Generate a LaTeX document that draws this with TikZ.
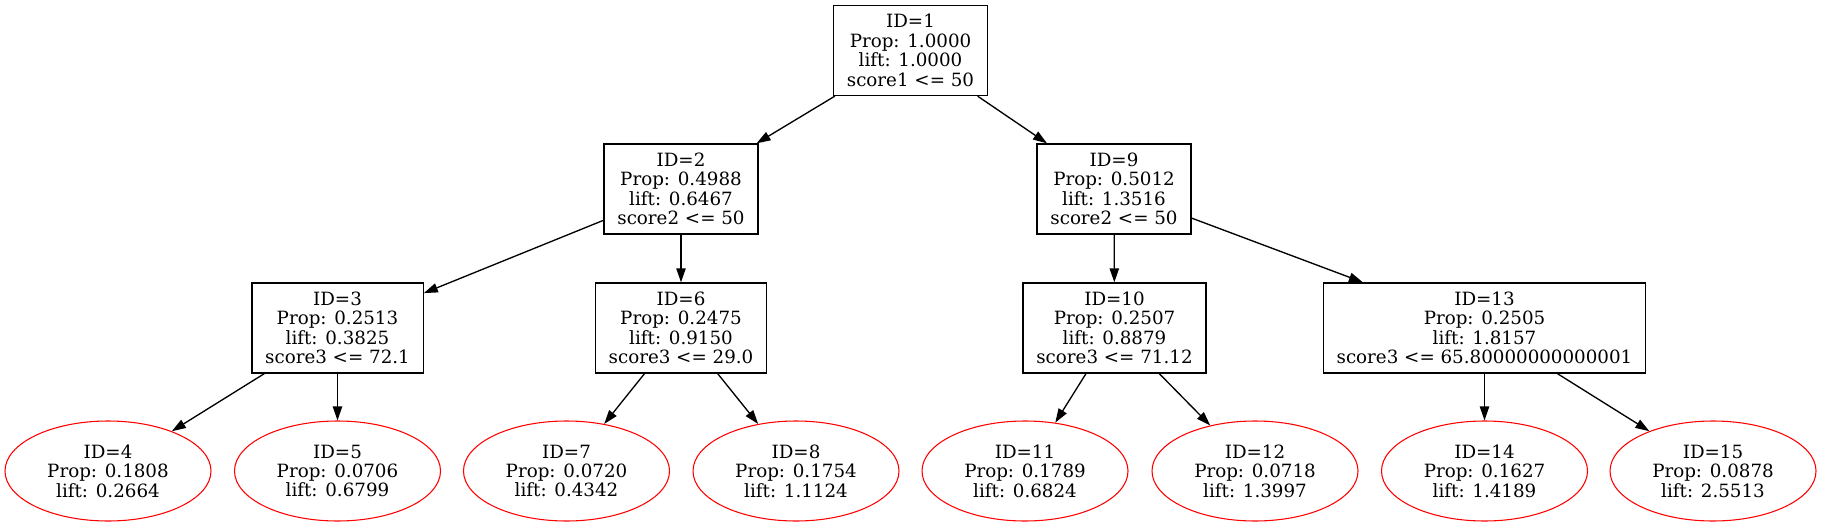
\documentclass[tikz,border=0pt]{standalone}
\usepackage{fontspec}
\setmainfont{DejaVu Serif}
\usepackage{tikz}
\usetikzlibrary{shapes.geometric,arrows.meta}

\tikzset{
  split/.style={draw, rectangle, align=center, line width=1pt, inner xsep=10pt, minimum height=67.5pt,
    font=\fontsize{13.7}{14.6}\selectfont},
  leaf/.style={draw=red, ellipse, align=center, line width=0.8pt, inner sep=0pt, minimum width=154.5pt,
    minimum height=75pt, font=\fontsize{13.7}{14.6}\selectfont},
  edge/.style={line width=1pt, -{Triangle[length=10.5pt,width=7pt]}}
}

\begin{document}
\begin{tikzpicture}[x=0.75pt,y=-0.75pt]
\useasboundingbox (0,0) rectangle (1822,527);
\node[split] (id1) at (910.5,50.5) {ID=1\\Prop: 1.0000\\lift: 1.0000\\score1 <= 50};
\node[split] (id2) at (681,189) {ID=2\\Prop: 0.4988\\lift: 0.6467\\score2 <= 50};
\node[split] (id9) at (1114,189) {ID=9\\Prop: 0.5012\\lift: 1.3516\\score2 <= 50};
\node[split] (id3) at (337.5,328) {ID=3\\Prop: 0.2513\\lift: 0.3825\\score3 <= 72.1};
\node[split] (id6) at (681,328) {ID=6\\Prop: 0.2475\\lift: 0.9150\\score3 <= 29.0};
\node[split] (id10) at (1114.5,328) {ID=10\\Prop: 0.2507\\lift: 0.8879\\score3 <= 71.12};
\node[split] (id13) at (1484.5,328) {ID=13\\Prop: 0.2505\\lift: 1.8157\\score3 <= 65.80000000000001};
% leaves
\node[leaf] (id4) at (108,471) {ID=4\\Prop: 0.1808\\lift: 0.2664};
\node[leaf] (id5) at (337.5,471) {ID=5\\Prop: 0.0706\\lift: 0.6799};
\node[leaf] (id7) at (566.5,471) {ID=7\\Prop: 0.0720\\lift: 0.4342};
\node[leaf] (id8) at (796,471) {ID=8\\Prop: 0.1754\\lift: 1.1124};
\node[leaf] (id11) at (1025,471) {ID=11\\Prop: 0.1789\\lift: 0.6824};
\node[leaf] (id12) at (1255,471) {ID=12\\Prop: 0.0718\\lift: 1.3997};
\node[leaf] (id14) at (1484.5,471) {ID=14\\Prop: 0.1627\\lift: 1.4189};
\node[leaf] (id15) at (1713,471) {ID=15\\Prop: 0.0878\\lift: 2.5513};
% edges
\draw[edge] (id1) -- (id2);
\draw[edge] (id1) -- (id9);
\draw[edge] (id2) -- (id3);
\draw[edge] (id2) -- (id6);
\draw[edge] (id9) -- (id10);
\draw[edge] (id9) -- (id13);
\draw[edge] (id3) -- (id4);
\draw[edge] (id3) -- (id5);
\draw[edge] (id6) -- (id7);
\draw[edge] (id6) -- (id8);
\draw[edge] (id10) -- (id11);
\draw[edge] (id10) -- (id12);
\draw[edge] (id13) -- (id14);
\draw[edge] (id13) -- (id15);
\end{tikzpicture}
\end{document}
